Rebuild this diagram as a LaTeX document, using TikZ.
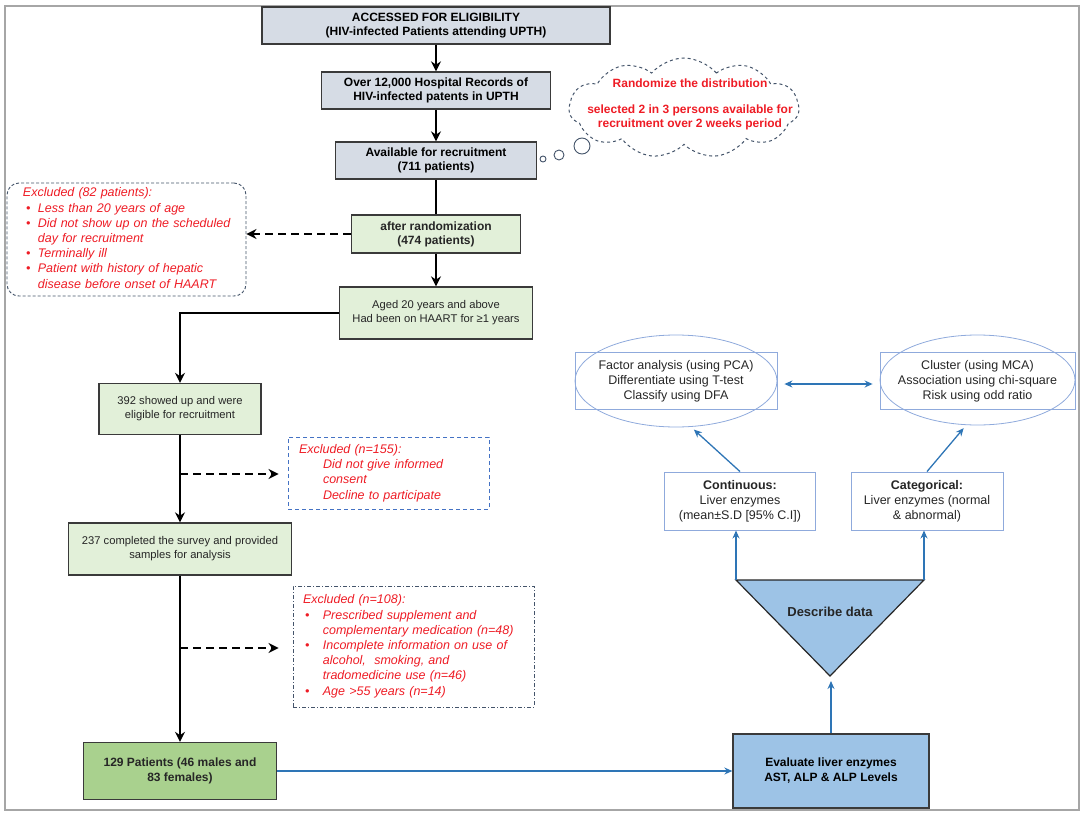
\documentclass[tikz,border=0pt]{standalone}
\usepackage{fontspec}
\setmainfont{Liberation Sans}
\usetikzlibrary{
    arrows.meta,
    positioning,
    calc,
    shapes.geometric,
    shapes.symbols
}
\definecolor{boxgray}{HTML}{D6DCE5}
\definecolor{boxgreen}{HTML}{E2F0D9}
\definecolor{finalgreen}{HTML}{A9D18E}
\definecolor{boxblue}{HTML}{9DC3E6}
\definecolor{edgegray}{HTML}{3A3A3A}
\definecolor{exred}{HTML}{EE1C25}
\definecolor{slate}{HTML}{44546A}
\definecolor{dashblue}{HTML}{4472C4}
\definecolor{linkblue}{HTML}{2E75B6}
\definecolor{paleblue}{HTML}{8FAADC}
\definecolor{framegray}{HTML}{A6A6A6}
\tikzset{
    % --- Gray box for the first stages ---
    gray box/.style = {
        rectangle, draw=edgegray, line width=1.3pt, fill=boxgray,
        align=center, inner sep=0pt,
        font=\fontsize{12}{14}\selectfont\bfseries
    },
    % --- Light green screening box ---
    green box/.style = {
        rectangle, draw=edgegray, line width=1.3pt, fill=boxgreen,
        align=center, inner sep=0pt, text=black!85,
        font=\fontsize{11.2}{14}\selectfont
    },
    % --- Final sample box ---
    final box/.style = {
        green box, fill=finalgreen,
        font=\fontsize{12}{15}\selectfont\bfseries
    },
    % --- Blue measurement box ---
    blue box/.style = {
        rectangle, draw=edgegray, line width=1.3pt, fill=boxblue,
        align=center, inner sep=0pt,
        font=\fontsize{12}{15}\selectfont\bfseries
    },
    % --- Exclusion notes (red italic) ---
    excl/.style = {
        rectangle, align=left, inner ysep=0pt, text=exred,
        font=\fontsize{12.5}{15.2}\selectfont\itshape
    },
    % --- Data type box ---
    data box/.style = {
        rectangle, draw=paleblue, line width=0.9pt, fill=white,
        align=center, inner sep=0pt, text=black!85,
        font=\fontsize{12.5}{15}\selectfont
    },
    % --- Analysis box with ellipse ---
    stat box/.style = {
        rectangle, draw=paleblue, line width=0.8pt,
        align=center, inner sep=0pt, text=black!85,
        font=\fontsize{12.5}{15}\selectfont
    },
    stat ellipse/.style = {
        ellipse, draw=paleblue, line width=0.8pt, inner sep=0pt
    },
    % --- Thought bubble ---
    bubble/.style = {
        circle, draw=slate, line width=0.9pt, inner sep=0pt
    },
    % --- Connectors ---
    flow/.style = {
        -{Stealth[length=10pt, width=10pt]}, line width=1.8pt, black
    },
    link/.style = {
        line width=1.8pt, black
    },
    dash flow/.style = {
        flow, dash pattern=on 8pt off 5pt
    },
    blue flow/.style = {
        -{Stealth[length=8pt, width=7pt]}, line width=1.3pt, linkblue
    },
    frame/.style = {
        draw=framegray, line width=1.6pt
    }
}

\begin{document}
\begin{tikzpicture}[x=1pt, y=-1pt, font=\fontsize{12}{14}\selectfont]

\useasboundingbox (0,0) rectangle (1084,816);
\draw[frame] (5,6) rectangle (1079,810);

% ---------------------------------------------------------
% 1. Recruitment column
% ---------------------------------------------------------
\node[gray box, minimum width=348, minimum height=37] (Access) at (436,25.5)
    {ACCESSED FOR ELIGIBILITY\\(HIV-infected Patients attending UPTH)};
\node[gray box, minimum width=229, minimum height=37] (Records) at (436,90.5)
    {Over 12,000 Hospital Records of\\HIV-infected patents in UPTH};
\node[gray box, minimum width=201, minimum height=37] (Avail) at (436,160.5)
    {Available for recruitment\\(711 patients)};
\node[green box, font=\fontsize{12}{14}\selectfont\bfseries,
      minimum width=169, minimum height=38] (Random) at (436,234)
    {after randomization\\(474 patients)};
\node[green box, minimum width=193, minimum height=52] (Aged) at (436,313)
    {Aged 20 years and above\\Had been on HAART for ≥1 years};

\draw[flow] (Access) -- (Records);
\draw[flow] (Records) -- (Avail);
\draw[link] (Avail) -- (Random);
\draw[flow] (Random) -- (Aged);

% ---------------------------------------------------------
% 2. Randomisation cloud
% ---------------------------------------------------------
\node[cloud, cloud puffs=11, cloud puff arc=100, draw=slate, dashed,
      line width=1pt, minimum width=230, minimum height=100] (Cloud) at (684,108) {};
\node[text=exred, align=center, font=\fontsize{12}{14}\selectfont\bfseries]
    (CloudText) at (690,104)
    {Randomize the distribution\\[12pt]selected 2 in 3 persons available for\\recruitment over 2 weeks period};
\node[bubble, minimum size=16] (Bub3) at (582,146) {};
\node[bubble, minimum size=10] (Bub2) at (559,155) {};
\node[bubble, minimum size=6]  (Bub1) at (543,159) {};

% ---------------------------------------------------------
% 3. Exclusions
% ---------------------------------------------------------
\node[excl, draw=slate, line width=0.9pt, densely dashed, rounded corners=12pt,
      inner xsep=16pt, text width=207, minimum height=113] (Excl1) at (126.5,239.5)
    {\begin{tabular}{@{\hspace{3pt}}l@{\hspace{7.5pt}}l@{}}
     \multicolumn{2}{@{}l@{}}{Excluded (82 patients):}\\
     \textbullet & Less than 20 years of age\\
     \textbullet & Did not show up on the scheduled\\
                 & day for recruitment\\
     \textbullet & Terminally ill\\
     \textbullet & Patient with history of hepatic\\
                 & disease before onset of HAART
     \end{tabular}};
\draw[dash flow] (Random.west) -- (Random.west -| Excl1.east);

% left column
\node[green box, minimum width=162, minimum height=51] (Showed) at (180,409)
    {392 showed up and were\\eligible for recruitment};
\node[green box, minimum width=223, minimum height=52] (Survey) at (180,549)
    {237 completed the survey and provided\\samples for analysis};
\node[final box, minimum width=193, minimum height=57] (Final) at (180,771)
    {129 Patients (46 males and\\83 females)};

\draw[flow] (Aged.west) -| (Showed.north);
\draw[flow] (Showed) -- (Survey);
\draw[flow] (Survey) -- (Final);

\node[excl, draw=dashblue, line width=0.9pt, dash pattern=on 4pt off 3pt,
      inner xsep=11pt, text width=179, minimum height=72] (Excl2) at (388.5,473)
    {Excluded (n=155):\\
     \hspace*{24pt}Did not give informed\\
     \hspace*{24pt}consent\\
     \hspace*{24pt}Decline to participate};
\node[excl, draw=slate, line width=0.9pt, dash pattern=on 4pt off 2pt on 1pt off 2pt,
      inner xsep=10pt, text width=221, minimum height=121] (Excl3) at (413.5,646.5)
    {\begin{tabular}{@{\hspace{2pt}}l@{\hspace{13.5pt}}l@{}}
     \multicolumn{2}{@{}l@{}}{Excluded (n=108):}\\
     \textbullet & Prescribed supplement and\\
                 & complementary medication (n=48)\\
     \textbullet & Incomplete information on use of\\
                 & alcohol,\ \ smoking, and\\
                 & tradomedicine use (n=46)\\
     \textbullet & Age >55 years (n=14)
     \end{tabular}};

\coordinate (Split1) at (180,474);
\coordinate (Split2) at (180,648);
\draw[dash flow, shorten >=9pt] (Split1) -- (Split1 -| Excl2.west);
\draw[dash flow, shorten >=14pt] (Split2) -- (Split2 -| Excl3.west);

% ---------------------------------------------------------
% 4. Analysis side
% ---------------------------------------------------------
\node[blue box, minimum width=196, minimum height=74] (Eval) at (831,771)
    {Evaluate liver enzymes\\AST, ALP \& ALP Levels};
\draw[blue flow] (Final.east) -- (Final.east -| Eval.west);

\coordinate (TriL) at (736,580);
\coordinate (TriR) at (924,580);
\coordinate (TriB) at (830,676);
\draw[fill=boxblue, draw=black!85, line width=1.2pt, line join=miter]
    (TriL) -- (TriR) -- (TriB) -- cycle;
\node[font=\fontsize{13}{15}\selectfont\bfseries, text=black!85] (Describe) at (830,612) {Describe data};
\draw[blue flow, shorten >=5pt] (Eval.north) -- (Eval.north |- TriB);

\node[data box, minimum width=151, minimum height=58] (Cont) at (740,501)
    {\textbf{Continuous:}\\Liver enzymes\\(mean±S.D [95\% C.I])};
\node[data box, minimum width=152, minimum height=58] (Cat) at (927,501)
    {\textbf{Categorical:}\\Liver enzymes (normal\\\& abnormal)};
\draw[blue flow] (TriL) -- (TriL |- Cont.south);
\draw[blue flow] (TriR) -- (TriR |- Cat.south);

\node[stat box, minimum width=202, minimum height=57] (Factor) at (676,381)
    {Factor analysis (using PCA)\\Differentiate using T-test\\Classify using DFA};
\node[stat ellipse, minimum width=202, minimum height=92] (FactorRing) at (676,381) {};
\node[stat box, minimum width=195, minimum height=57] (Cluster) at (977.5,381)
    {Cluster (using MCA)\\Association using chi-square\\Risk using odd ratio};
\node[stat ellipse, minimum width=195, minimum height=90] (ClusterRing) at (977.5,380) {};

\draw[blue flow, shorten >=4pt] (Cont.north) -- (FactorRing.-72);
\draw[blue flow, shorten >=4pt] (Cat.north) -- (ClusterRing.-104);
\draw[blue flow, {Stealth[length=8pt, width=7pt]}-{Stealth[length=8pt, width=7pt]},
      shorten <=7pt, shorten >=7pt] ([yshift=-3pt]Factor.east) -- ([yshift=-3pt]Cluster.west);

\end{tikzpicture}
\end{document}
